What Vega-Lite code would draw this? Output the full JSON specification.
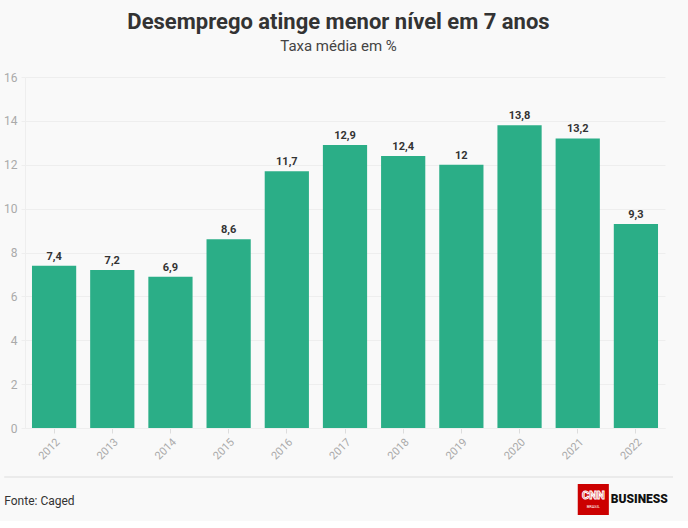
{
  "$schema": "https://vega.github.io/schema/vega-lite/v6.json",
  "background": "#f9f9f9",
  "padding": {"left": 3, "top": 11, "right": 14, "bottom": 4},
  "config": {
    "font": "Roboto",
    "view": {"stroke": null},
    "locale": {"number": {"decimal": ",", "thousands": ".", "grouping": [3], "currency": ["R$", ""]}},
    "concat": {"spacing": 14}
  },
  "title": {
    "text": "Desemprego atinge menor nível em 7 anos",
    "subtitle": "Taxa média em %",
    "anchor": "middle",
    "font": "Roboto",
    "fontSize": 22,
    "fontWeight": "bold",
    "color": "#333333",
    "subtitleFont": "Roboto",
    "subtitleFontSize": 15,
    "subtitleColor": "#444444",
    "subtitlePadding": 5,
    "offset": 16
  },
  "vconcat": [
    {
      "width": 640,
      "height": 351,
      "data": {
        "values": [
          {"ano": "2012", "taxa": 7.4},
          {"ano": "2013", "taxa": 7.2},
          {"ano": "2014", "taxa": 6.9},
          {"ano": "2015", "taxa": 8.6},
          {"ano": "2016", "taxa": 11.7},
          {"ano": "2017", "taxa": 12.9},
          {"ano": "2018", "taxa": 12.4},
          {"ano": "2019", "taxa": 12.0},
          {"ano": "2020", "taxa": 13.8},
          {"ano": "2021", "taxa": 13.2},
          {"ano": "2022", "taxa": 9.3}
        ]
      },
      "encoding": {
        "x": {
          "field": "ano", "type": "ordinal",
          "scale": {"paddingInner": 0.24, "paddingOuter": 0.12},
          "axis": {"title": null, "labelAngle": -45, "labelColor": "#aaaaaa", "labelFontSize": 11, "labelFont": "Roboto", "tickColor": "#dddddd", "tickSize": 5, "domainColor": "#eeeeee", "labelPadding": 3}
        },
        "y": {
          "field": "taxa", "type": "quantitative",
          "scale": {"domain": [0, 16]},
          "axis": {"title": null, "values": [0, 2, 4, 6, 8, 10, 12, 14, 16], "labelColor": "#aaaaaa", "labelFontSize": 12, "labelFont": "Roboto", "gridColor": "#eeeeee", "tickColor": "#eeeeee", "tickSize": 4, "domainColor": "#eeeeee", "labelPadding": 4}
        }
      },
      "layer": [
        {"mark": {"type": "bar", "color": "#2bae87"}},
        {
          "mark": {"type": "text", "dy": -9, "fontWeight": "bold", "fontSize": 11, "color": "#333333", "font": "Roboto"},
          "encoding": {"text": {"field": "taxa", "type": "quantitative", "format": ".1~f"}}
        }
      ]
    },
    {
      "width": 648,
      "height": 40,
      "data": {
        "values": [
          {"part": "rule", "x": -3.2, "x2": 100, "y": 1, "y2": 1},
          {"part": "fonte", "x": -3.2, "y": 0.4, "text": "Fonte: Caged"},
          {"part": "box", "x": 85.3, "x2": 90.1, "y": 0.825, "y2": 0.05},
          {"part": "cnn", "x": 87.7, "y": 0.52, "text": "CNN"},
          {"part": "brasil", "x": 87.7, "y": 0.24, "text": "BRASIL"},
          {"part": "business", "x": 90.4, "y": 0.45, "text": "BUSINESS"}
        ]
      },
      "layer": [
        {
          "transform": [{"filter": "datum.part == 'rule'"}],
          "mark": {"type": "rule", "color": "#dddddd", "strokeWidth": 1, "clip": false},
          "encoding": {
            "x": {"field": "x", "type": "quantitative", "scale": {"domain": [0, 100]}, "axis": null},
            "x2": {"field": "x2"},
            "y": {"field": "y", "type": "quantitative", "scale": {"domain": [0, 1]}, "axis": null}
          }
        },
        {
          "transform": [{"filter": "datum.part == 'box'"}],
          "mark": {"type": "rect", "color": "#cc0000"},
          "encoding": {
            "x": {"field": "x", "type": "quantitative"},
            "x2": {"field": "x2"},
            "y": {"field": "y", "type": "quantitative"},
            "y2": {"field": "y2"}
          }
        },
        {
          "transform": [{"filter": "datum.part == 'fonte'"}],
          "mark": {"type": "text", "align": "left", "baseline": "middle", "fontSize": 12, "color": "#333333", "font": "Roboto"},
          "encoding": {
            "x": {"field": "x", "type": "quantitative"},
            "y": {"field": "y", "type": "quantitative"},
            "text": {"field": "text"}
          }
        },
        {
          "transform": [{"filter": "datum.part == 'cnn'"}],
          "mark": {"type": "text", "align": "center", "baseline": "middle", "fontSize": 11, "fontWeight": "bold", "color": "#cc0000", "stroke": "#ffffff", "strokeWidth": 1, "font": "Roboto"},
          "encoding": {
            "x": {"field": "x", "type": "quantitative"},
            "y": {"field": "y", "type": "quantitative"},
            "text": {"field": "text"}
          }
        },
        {
          "transform": [{"filter": "datum.part == 'brasil'"}],
          "mark": {"type": "text", "align": "center", "baseline": "middle", "fontSize": 4, "color": "#ffffff", "font": "Roboto"},
          "encoding": {
            "x": {"field": "x", "type": "quantitative"},
            "y": {"field": "y", "type": "quantitative"},
            "text": {"field": "text"}
          }
        },
        {
          "transform": [{"filter": "datum.part == 'business'"}],
          "mark": {"type": "text", "align": "left", "baseline": "middle", "fontSize": 12, "fontWeight": 900, "color": "#111111", "font": "Roboto"},
          "encoding": {
            "x": {"field": "x", "type": "quantitative"},
            "y": {"field": "y", "type": "quantitative"},
            "text": {"field": "text"}
          }
        }
      ]
    }
  ]
}
